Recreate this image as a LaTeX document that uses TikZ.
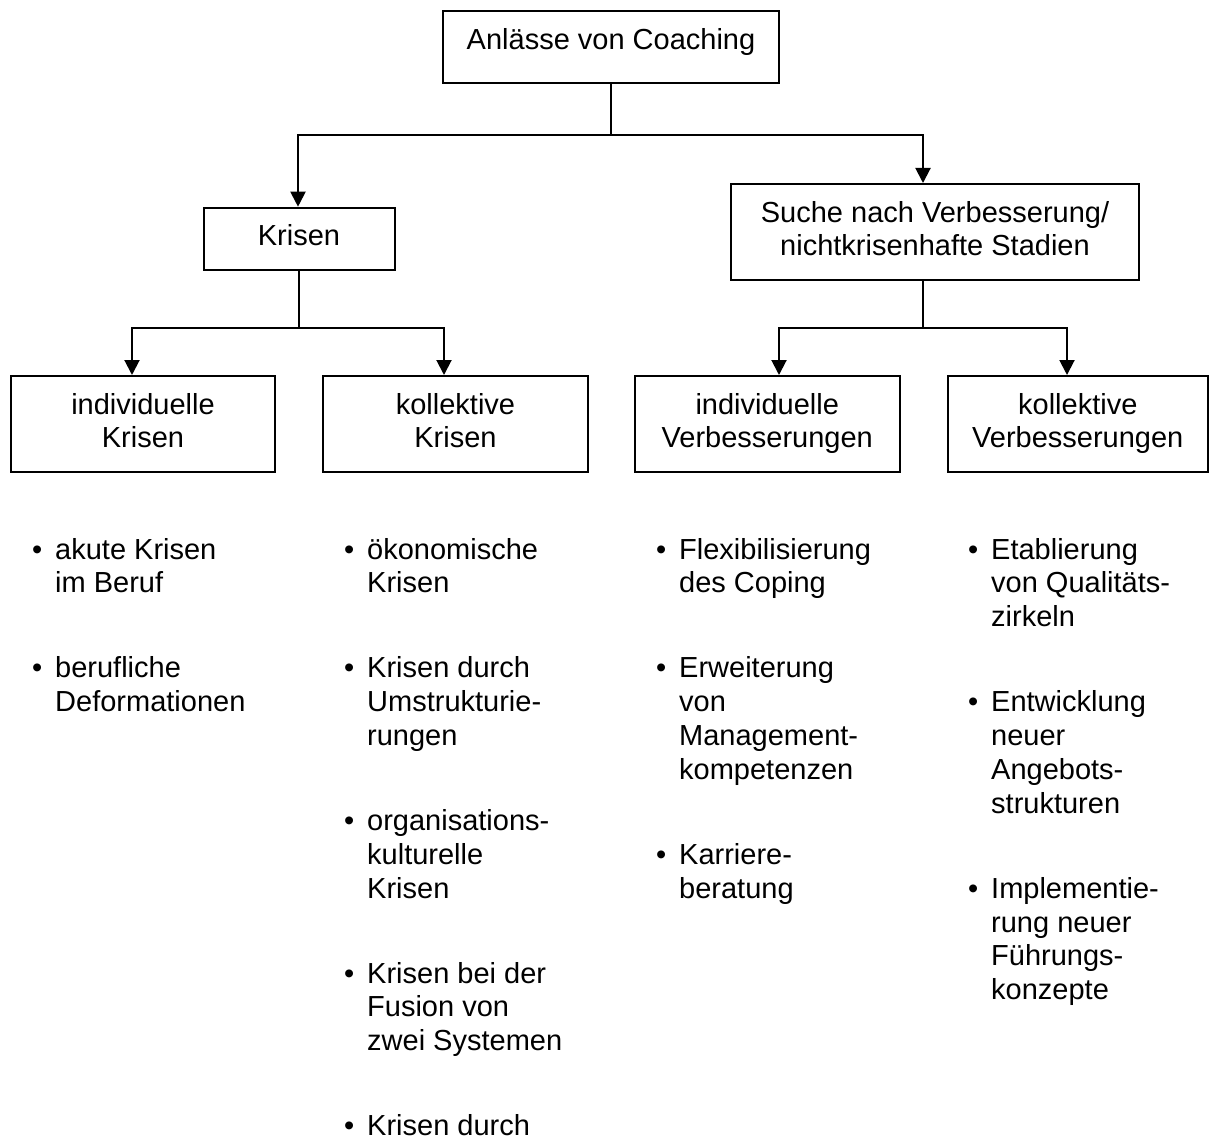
\documentclass[tikz,border=0pt]{standalone}
\usepackage{fontspec}
\setmainfont{Liberation Sans}
\usetikzlibrary{arrows.meta}
\newcommand{\bul}{\llap{•\hspace{13pt}}}
\begin{document}
\begin{tikzpicture}[x=1pt,y=-1pt,
  every node/.style={font=\fontsize{29pt}{33.8pt}\selectfont, inner sep=0pt},
  box/.style={draw, line width=2pt, align=center, text height=38pt},
  twoline/.style={text height=71.8pt},
  conn/.style={line width=2pt},
  arr/.style={conn, -{Triangle[length=15pt,width=15pt]}},
  item/.style={anchor=base west, align=left}]
\useasboundingbox (0,0) rectangle (1209,1142);

% boxes
\node[box, minimum width=336pt, text height=39.3pt, text depth=32.7pt] (top) at (611,46.7) {Anlässe von Coaching};
\node[box, minimum width=191pt, text depth=24.3pt] (krisen) at (299,238.85) {Krisen};
\node[box, twoline, minimum width=408pt, text depth=24.2pt] (suche) at (935,232) {Suche nach Verbesserung/\\nichtkrisenhafte Stadien};
\node[box, twoline, minimum width=264pt, text depth=23.7pt] (indK) at (143,423.75) {individuelle\\Krisen};
\node[box, twoline, minimum width=265pt, text depth=23.7pt] (kollK) at (455.5,423.75) {kollektive\\Krisen};
\node[box, twoline, minimum width=264.5pt, text depth=23.7pt] (indV) at (767.25,423.75) {individuelle\\Verbesserungen};
\node[box, twoline, minimum width=260.5pt, text depth=23.7pt] (kollV) at (1077.75,423.75) {kollektive\\Verbesserungen};

% connectors
\coordinate (j0) at (611,135);
\draw[conn] (top.south) -- (j0);
\draw[arr] (j0) -| ([xshift=-1pt]krisen.north);
\draw[arr] (j0) -| ([xshift=-12pt]suche.north);

\coordinate (j1) at (298.5,327.7);
\draw[conn] ([xshift=-0.5pt]krisen.south) -- (j1);
\draw[arr] (j1) -| ([xshift=-11pt]indK.north);
\draw[arr] (j1) -| ([xshift=-11.5pt]kollK.north);

\coordinate (j2) at (923,327.7);
\draw[conn] ([xshift=-12pt]suche.south) -- (j2);
\draw[arr] (j2) -| ([xshift=11.75pt]indV.north);
\draw[arr] (j2) -| ([xshift=-10.75pt]kollV.north);

% bullet lists (anchored at the baseline of the last line)
\node[item] (a1) at (55,592.8) {\bul akute Krisen\\im Beruf};
\node[item] (a2) at (55,711.6) {\bul berufliche\\Deformationen};

\node[item] (b1) at (367,592.8) {\bul ökonomische\\Krisen};
\node[item] (b2) at (367,745.4) {\bul Krisen durch\\Umstrukturie-\\rungen};
\node[item] (b3) at (367,898) {\bul organisations-\\kulturelle\\Krisen};
\node[item] (b4) at (367,1050.6) {\bul Krisen bei der\\Fusion von\\zwei Systemen};
\node[item] (b5) at (367,1135.6) {\bul Krisen durch};

\node[item] (c1) at (679,592.8) {\bul Flexibilisierung\\des Coping};
\node[item] (c2) at (679,779.2) {\bul Erweiterung\\von\\Management-\\kompetenzen};
\node[item] (c3) at (679,898) {\bul Karriere-\\beratung};

\node[item] (d1) at (991,626.6) {\bul Etablierung\\von Qualitäts-\\zirkeln};
\node[item] (d2) at (991,813) {\bul Entwicklung\\neuer\\Angebots-\\strukturen};
\node[item] (d3) at (991,999.6) {\bul Implementie-\\rung neuer\\Führungs-\\konzepte};
\end{tikzpicture}
\end{document}
